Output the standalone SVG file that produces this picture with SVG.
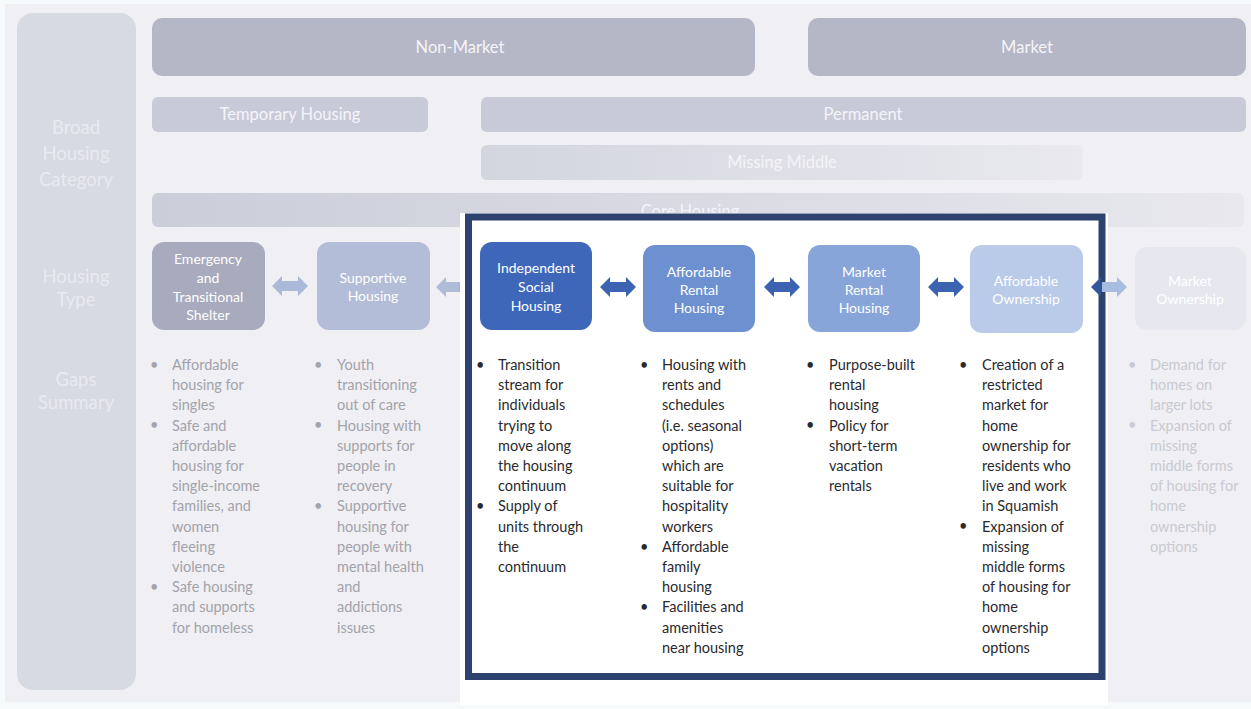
<svg xmlns="http://www.w3.org/2000/svg" width="1251" height="709" viewBox="0 0 1251 709">
  <defs>
    <style>
      text { font-family: Lato, "Open Sans", "Liberation Sans", sans-serif; }
      .bar { font-size: 16.5px; fill: #f4f4f8; text-anchor: middle; }
      .side { font-size: 18.5px; fill: #e9eaf0; text-anchor: middle; }
      .node { font-size: 14px; fill: #ffffff; text-anchor: middle; }
      .gap { font-size: 14.5px; fill: #a2a3ab; }
      .gapin { font-size: 14.5px; fill: #2a2a2e; }
      .gapfade { font-size: 14.5px; fill: #c9cad2; }
    </style>
    <linearGradient id="fadeMid" x1="0" y1="0" x2="1" y2="0">
      <stop offset="0" stop-color="#d3d5df"/>
      <stop offset="1" stop-color="#e9e9ef"/>
    </linearGradient>
    <linearGradient id="fadeCore" x1="0" y1="0" x2="1" y2="0">
      <stop offset="0" stop-color="#cbcdd9"/>
      <stop offset="0.6" stop-color="#dcdde5"/>
      <stop offset="1" stop-color="#e8e8ee"/>
    </linearGradient>
    <linearGradient id="splitArrow" x1="0" y1="0" x2="1" y2="0">
      <stop offset="0.3" stop-color="#33569a"/>
      <stop offset="0.32" stop-color="#a9bde0"/>
    </linearGradient>
    <linearGradient id="edgeArrow" x1="0" y1="0" x2="1" y2="0">
      <stop offset="0.6" stop-color="#aebcd8"/>
      <stop offset="1" stop-color="#5f83c4"/>
    </linearGradient>
    <path id="dbl" d="M0,0 L10,-10 L10,-5 L26,-5 L26,-10 L36,0 L26,10 L26,5 L10,5 L10,10 Z"/>
  </defs>

  <!-- page and panel -->
  <rect x="0" y="0" width="1251" height="709" fill="#f6fafb"/>
  <rect x="5" y="4" width="1246" height="698" fill="#f0eff3"/>

  <!-- row headings column -->
  <g id="row-headings">
    <rect x="17" y="13" width="119" height="677" rx="16" fill="#d7d9e3"/>
    <text class="side" x="76" y="134">Broad</text>
    <text class="side" x="76" y="160">Housing</text>
    <text class="side" x="76" y="186">Category</text>
    <text class="side" x="76" y="283">Housing</text>
    <text class="side" x="76" y="306">Type</text>
    <text class="side" x="76" y="386">Gaps</text>
    <text class="side" x="76" y="409">Summary</text>
  </g>

  <!-- category bars -->
  <g id="non-market">
    <rect x="152" y="18" width="603" height="58" rx="10" fill="#b5b7c6"/>
    <text class="bar" x="460" y="53">Non-Market</text>
  </g>
  <g id="market">
    <rect x="808" y="18" width="438" height="58" rx="10" fill="#b5b7c6"/>
    <text class="bar" x="1027" y="53">Market</text>
  </g>
  <g id="temporary-housing">
    <rect x="152" y="97" width="276" height="35" rx="6" fill="#c8cad8"/>
    <text class="bar" x="290" y="120">Temporary Housing</text>
  </g>
  <g id="permanent">
    <rect x="481" y="97" width="765" height="35" rx="6" fill="#c8cad8"/>
    <text class="bar" x="863" y="120">Permanent</text>
  </g>
  <g id="missing-middle">
    <rect x="481" y="145" width="602" height="35" rx="6" fill="url(#fadeMid)"/>
    <text class="bar" x="782" y="168" fill="#eceef3">Missing Middle</text>
  </g>
  <g id="core-housing">
    <rect x="152" y="193" width="1092" height="34" rx="6" fill="url(#fadeCore)"/>
    <text class="bar" x="690" y="217">Core Housing</text>
  </g>

  <!-- arrows outside the highlight -->
  <g id="connectors-back">
    <use href="#dbl" transform="translate(272,286)" fill="#aab9d7"/>
    <use href="#dbl" transform="translate(436,287)" fill="url(#edgeArrow)"/>
  </g>

  <!-- highlighted core housing area -->
  <g id="highlight">
    <rect x="460" y="213" width="648" height="492" fill="#ffffff"/>
    <rect x="468.5" y="217" width="633.5" height="459.5" fill="#ffffff" stroke="#2d426e" stroke-width="7"/>
  </g>

  <!-- housing type nodes -->
  <g id="emergency-shelter">
    <rect x="152" y="242" width="113" height="88" rx="12" fill="#a8abbd"/>
    <text class="node" x="208" y="264">Emergency</text>
    <text class="node" x="208" y="283">and</text>
    <text class="node" x="208" y="302">Transitional</text>
    <text class="node" x="208" y="320">Shelter</text>
  </g>
  <g id="supportive-housing">
    <rect x="317" y="242" width="113" height="88" rx="12" fill="#b3bdd7"/>
    <text class="node" x="373" y="283">Supportive</text>
    <text class="node" x="373" y="301">Housing</text>
  </g>
  <g id="independent-social-housing">
    <rect x="480" y="242" width="112" height="88" rx="12" fill="#3e67b9"/>
    <text class="node" x="536" y="273">Independent</text>
    <text class="node" x="536" y="292">Social</text>
    <text class="node" x="536" y="311">Housing</text>
  </g>
  <g id="affordable-rental-housing">
    <rect x="643" y="245" width="112" height="87" rx="12" fill="#6d90d0"/>
    <text class="node" x="699" y="277">Affordable</text>
    <text class="node" x="699" y="295">Rental</text>
    <text class="node" x="699" y="313">Housing</text>
  </g>
  <g id="market-rental-housing">
    <rect x="808" y="245" width="112" height="87" rx="12" fill="#88a5da"/>
    <text class="node" x="864" y="277">Market</text>
    <text class="node" x="864" y="295">Rental</text>
    <text class="node" x="864" y="313">Housing</text>
  </g>
  <g id="affordable-ownership">
    <rect x="970" y="245" width="113" height="88" rx="12" fill="#b9cbe9"/>
    <text class="node" x="1026" y="286" fill="#8094bf">Affordable</text>
    <text class="node" x="1026" y="304" fill="#8094bf">Ownership</text>
  </g>
  <g id="market-ownership">
    <rect x="1135" y="247" width="111" height="83" rx="12" fill="#e6e7ef"/>
    <text class="node" x="1190" y="286" fill="#d2d4de">Market</text>
    <text class="node" x="1190" y="304" fill="#d2d4de">Ownership</text>
  </g>

  <!-- arrows inside the highlight -->
  <g id="connectors">
    <use href="#dbl" transform="translate(600,287)" fill="#3b63b1"/>
    <use href="#dbl" transform="translate(764,287)" fill="#3b63b1"/>
    <use href="#dbl" transform="translate(928,287)" fill="#3b63b1"/>
    <use href="#dbl" transform="translate(1091,287)" fill="url(#splitArrow)"/>
  </g>

  <!-- gaps summary lists -->
  <g id="gaps-emergency" class="gap">
    <text x="150" y="370">•</text>
    <text x="150" y="430">•</text>
    <text x="150" y="592">•</text>
    <text y="370">
      <tspan x="172">Affordable</tspan>
      <tspan x="172" dy="20.2">housing for</tspan>
      <tspan x="172" dy="20.2">singles</tspan>
      <tspan x="172" dy="20.2">Safe and</tspan>
      <tspan x="172" dy="20.2">affordable</tspan>
      <tspan x="172" dy="20.2">housing for</tspan>
      <tspan x="172" dy="20.2">single-income</tspan>
      <tspan x="172" dy="20.2">families, and</tspan>
      <tspan x="172" dy="20.2">women</tspan>
      <tspan x="172" dy="20.2">fleeing</tspan>
      <tspan x="172" dy="20.2">violence</tspan>
      <tspan x="172" dy="20.2">Safe housing</tspan>
      <tspan x="172" dy="20.2">and supports</tspan>
      <tspan x="172" dy="20.2">for homeless</tspan>
    </text>
  </g>
  <g id="gaps-supportive" class="gap">
    <text x="314" y="370">•</text>
    <text x="314" y="430">•</text>
    <text x="314" y="511">•</text>
    <text y="370">
      <tspan x="337">Youth</tspan>
      <tspan x="337" dy="20.2">transitioning</tspan>
      <tspan x="337" dy="20.2">out of care</tspan>
      <tspan x="337" dy="20.2">Housing with</tspan>
      <tspan x="337" dy="20.2">supports for</tspan>
      <tspan x="337" dy="20.2">people in</tspan>
      <tspan x="337" dy="20.2">recovery</tspan>
      <tspan x="337" dy="20.2">Supportive</tspan>
      <tspan x="337" dy="20.2">housing for</tspan>
      <tspan x="337" dy="20.2">people with</tspan>
      <tspan x="337" dy="20.2">mental health</tspan>
      <tspan x="337" dy="20.2">and</tspan>
      <tspan x="337" dy="20.2">addictions</tspan>
      <tspan x="337" dy="20.2">issues</tspan>
    </text>
  </g>
  <g id="gaps-independent" class="gapin">
    <text x="476" y="370">•</text>
    <text x="476" y="511">•</text>
    <text y="370">
      <tspan x="498">Transition</tspan>
      <tspan x="498" dy="20.2">stream for</tspan>
      <tspan x="498" dy="20.2">individuals</tspan>
      <tspan x="498" dy="20.2">trying to</tspan>
      <tspan x="498" dy="20.2">move along</tspan>
      <tspan x="498" dy="20.2">the housing</tspan>
      <tspan x="498" dy="20.2">continuum</tspan>
      <tspan x="498" dy="20.2">Supply of</tspan>
      <tspan x="498" dy="20.2">units through</tspan>
      <tspan x="498" dy="20.2">the</tspan>
      <tspan x="498" dy="20.2">continuum</tspan>
    </text>
  </g>
  <g id="gaps-affordable-rental" class="gapin">
    <text x="640" y="370">•</text>
    <text x="640" y="552">•</text>
    <text x="640" y="612">•</text>
    <text y="370">
      <tspan x="662">Housing with</tspan>
      <tspan x="662" dy="20.2">rents and</tspan>
      <tspan x="662" dy="20.2">schedules</tspan>
      <tspan x="662" dy="20.2">(i.e. seasonal</tspan>
      <tspan x="662" dy="20.2">options)</tspan>
      <tspan x="662" dy="20.2">which are</tspan>
      <tspan x="662" dy="20.2">suitable for</tspan>
      <tspan x="662" dy="20.2">hospitality</tspan>
      <tspan x="662" dy="20.2">workers</tspan>
      <tspan x="662" dy="20.2">Affordable</tspan>
      <tspan x="662" dy="20.2">family</tspan>
      <tspan x="662" dy="20.2">housing</tspan>
      <tspan x="662" dy="20.2">Facilities and</tspan>
      <tspan x="662" dy="20.2">amenities</tspan>
      <tspan x="662" dy="20.2">near housing</tspan>
    </text>
  </g>
  <g id="gaps-market-rental" class="gapin">
    <text x="806" y="370">•</text>
    <text x="806" y="430">•</text>
    <text y="370">
      <tspan x="829">Purpose-built</tspan>
      <tspan x="829" dy="20.2">rental</tspan>
      <tspan x="829" dy="20.2">housing</tspan>
      <tspan x="829" dy="20.2">Policy for</tspan>
      <tspan x="829" dy="20.2">short-term</tspan>
      <tspan x="829" dy="20.2">vacation</tspan>
      <tspan x="829" dy="20.2">rentals</tspan>
    </text>
  </g>
  <g id="gaps-affordable-ownership" class="gapin">
    <text x="959" y="370">•</text>
    <text x="959" y="531">•</text>
    <text y="370">
      <tspan x="982">Creation of a</tspan>
      <tspan x="982" dy="20.2">restricted</tspan>
      <tspan x="982" dy="20.2">market for</tspan>
      <tspan x="982" dy="20.2">home</tspan>
      <tspan x="982" dy="20.2">ownership for</tspan>
      <tspan x="982" dy="20.2">residents who</tspan>
      <tspan x="982" dy="20.2">live and work</tspan>
      <tspan x="982" dy="20.2">in Squamish</tspan>
      <tspan x="982" dy="20.2">Expansion of</tspan>
      <tspan x="982" dy="20.2">missing</tspan>
      <tspan x="982" dy="20.2">middle forms</tspan>
      <tspan x="982" dy="20.2">of housing for</tspan>
      <tspan x="982" dy="20.2">home</tspan>
      <tspan x="982" dy="20.2">ownership</tspan>
      <tspan x="982" dy="20.2">options</tspan>
    </text>
  </g>
  <g id="gaps-market-ownership" class="gapfade">
    <text x="1128" y="370">•</text>
    <text x="1128" y="430">•</text>
    <text y="370">
      <tspan x="1150">Demand for</tspan>
      <tspan x="1150" dy="20.2">homes on</tspan>
      <tspan x="1150" dy="20.2">larger lots</tspan>
      <tspan x="1150" dy="20.2">Expansion of</tspan>
      <tspan x="1150" dy="20.2">missing</tspan>
      <tspan x="1150" dy="20.2">middle forms</tspan>
      <tspan x="1150" dy="20.2">of housing for</tspan>
      <tspan x="1150" dy="20.2">home</tspan>
      <tspan x="1150" dy="20.2">ownership</tspan>
      <tspan x="1150" dy="20.2">options</tspan>
    </text>
  </g>
</svg>
